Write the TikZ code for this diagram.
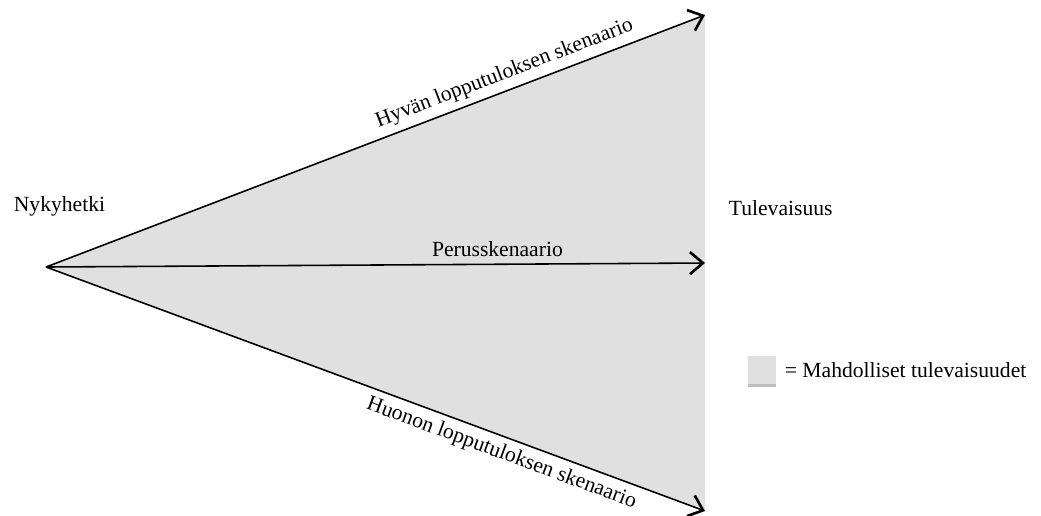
\documentclass[tikz,border=0pt]{standalone}
\usepackage{fontspec}
\setmainfont{Liberation Serif}
\usetikzlibrary{arrows.meta,shadows}
\definecolor{fan}{HTML}{E0E0E0}
\tikzset{
  scen/.style={line width=0.9pt,-{Straight Barb[length=2.6mm,width=4.4mm,line width=1.5pt]}},
  lbl/.style={font=\fontsize{12.3}{14}\selectfont,inner sep=2pt},
}
\begin{document}
\begin{tikzpicture}[x=0.02cm,y=-0.02cm]
\useasboundingbox (0,0) rectangle (1041,515);
\coordinate (apex) at (46,267);
\coordinate (good) at (705,15);
\coordinate (base) at (705,263);
\coordinate (bad) at (705,511);
\fill[fan] (apex) -- (good) -- (bad) -- cycle;
\draw[scen] (apex) -- (good) node[lbl,pos=0.705,sloped,above,inner sep=3.5pt] (goodlbl) {Hyvän lopputuloksen skenaario};
\draw[scen] (apex) -- (base) node[lbl,pos=0.685,above,inner sep=4pt] (baselbl) {Perusskenaario};
\draw[scen] (apex) -- (bad) node[lbl,pos=0.70,sloped,below,inner sep=3.5pt] (badlbl) {Huonon lopputuloksen skenaario};
\node[lbl,anchor=west] (now) at (10,206) {Nykyhetki};
\node[lbl,anchor=west] (future) at (725,208) {Tulevaisuus};
\node[fill=fan,minimum width=0.56cm,minimum height=0.56cm,inner sep=0pt,
      drop shadow={shadow xshift=0pt,shadow yshift=-1.5pt,opacity=0.5}] (legbox) at (762,370) {};
\node[lbl,anchor=west] (legtext) at (781,370) {= Mahdolliset tulevaisuudet};
\end{tikzpicture}
\end{document}
